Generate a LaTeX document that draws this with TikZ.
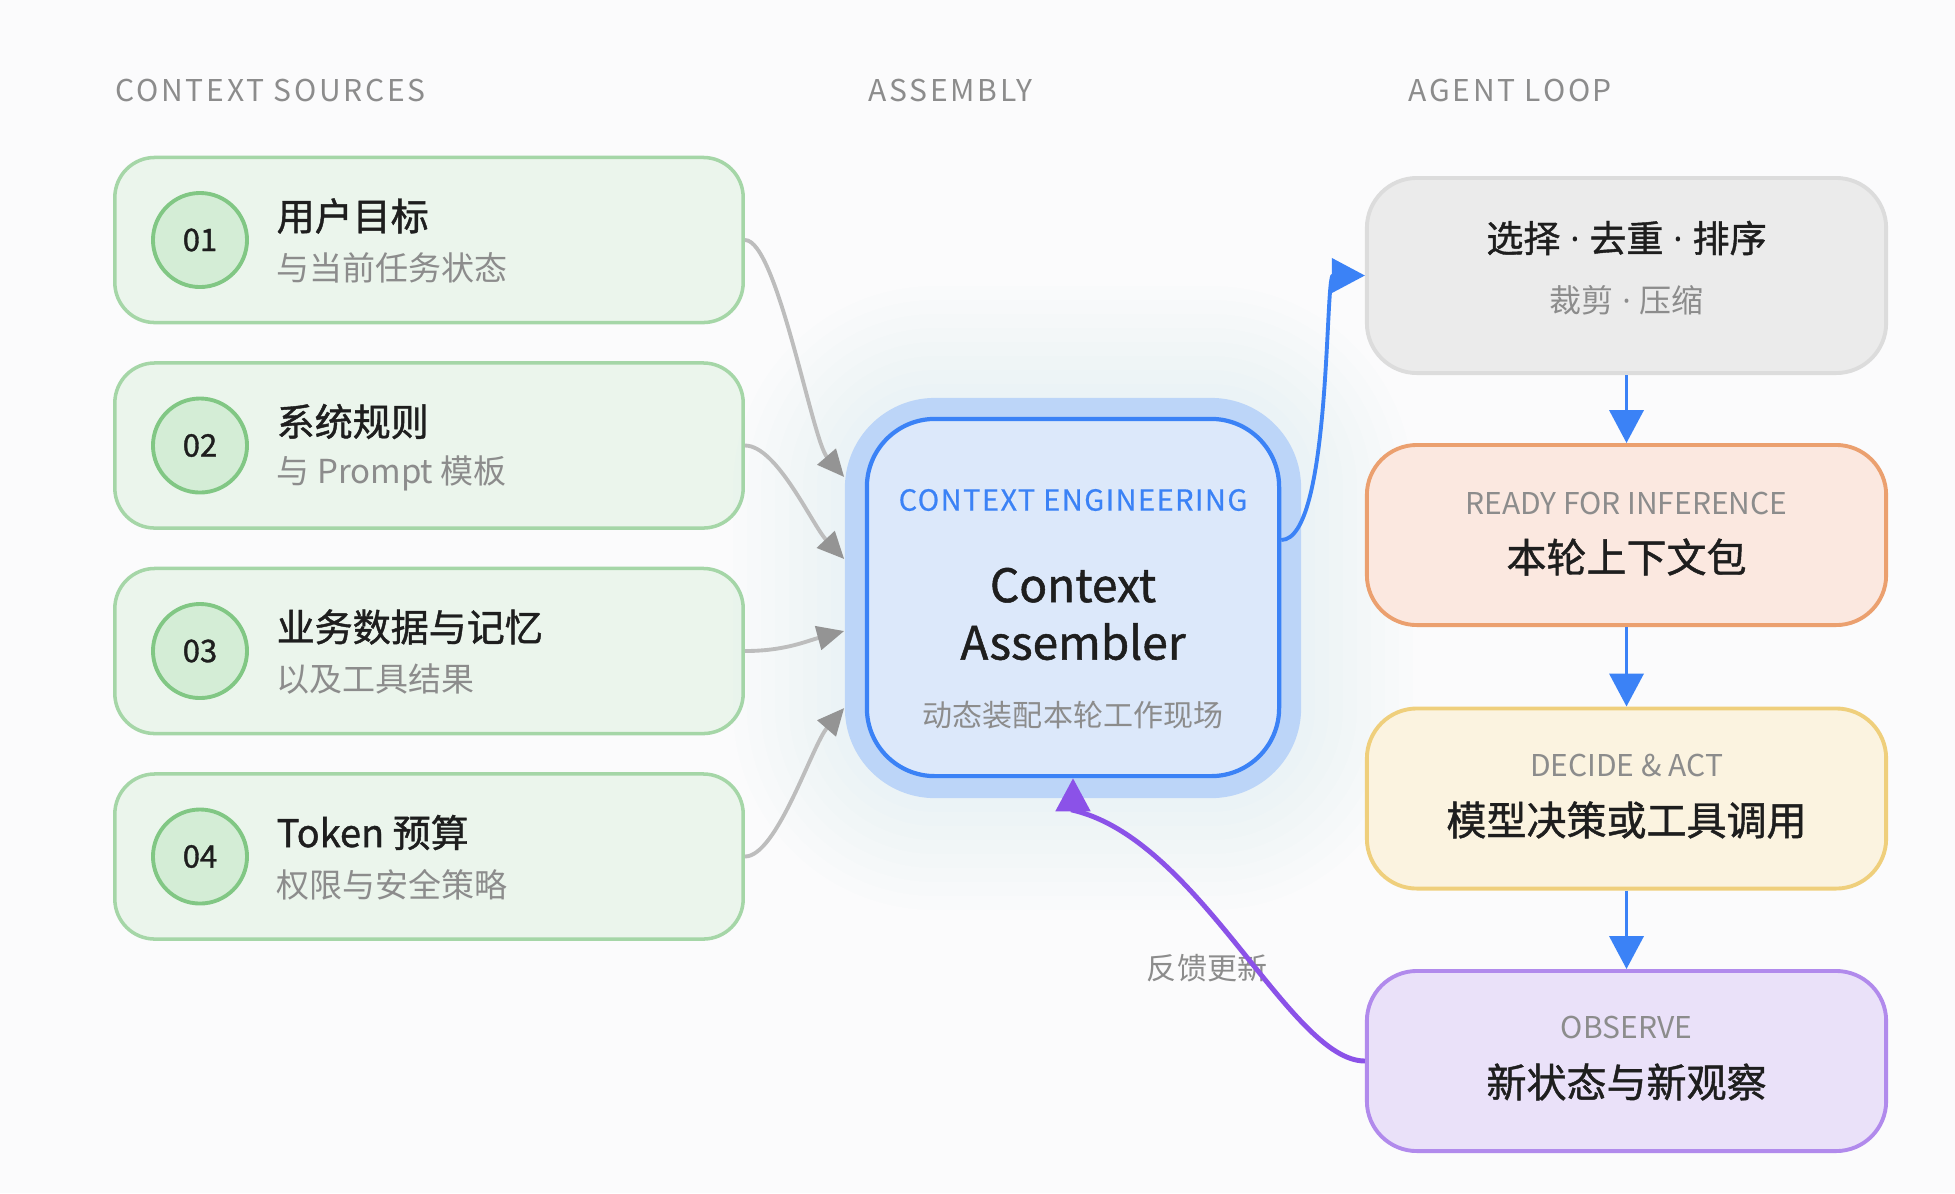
\documentclass[tikz,border=0pt]{standalone}
\usepackage{fontspec}
\setmainfont{Noto Sans CJK SC}
\newfontfamily\capsfont[LetterSpace=9]{Noto Sans CJK SC}
\newfontfamily\engfont[LetterSpace=5, FakeBold=0.6]{Noto Sans CJK SC}
\newfontfamily\heavy[FakeBold=1.1]{Noto Sans CJK SC}
\newfontfamily\dotfont{Open Sans}
\usepackage{xcolor}
\usepackage{tikz}
\usetikzlibrary{arrows.meta, positioning, calc}

\definecolor{bgcol}{HTML}{FBFBFC}
\definecolor{ink}{HTML}{1E1E1E}
\definecolor{mute}{HTML}{8C8C8C}
\definecolor{srcfill}{HTML}{EBF5EC}
\definecolor{srcline}{HTML}{A5D6A7}
\definecolor{dotfill}{HTML}{D4EDD6}
\definecolor{dotline}{HTML}{81C784}
\definecolor{flowblue}{HTML}{3B82F6}
\definecolor{halofill}{HTML}{BCD5F8}
\definecolor{asmfill}{HTML}{DCE8FA}
\definecolor{feedgray}{HTML}{BDBDBD}
\definecolor{tipgray}{HTML}{949494}
\definecolor{fbpurple}{HTML}{8B52E8}
\definecolor{selfill}{HTML}{EBEBEB}
\definecolor{selline}{HTML}{DCDCDC}
\definecolor{readyfill}{HTML}{FBE8E0}
\definecolor{readyline}{HTML}{EBA06F}
\definecolor{actfill}{HTML}{FBF3E0}
\definecolor{actline}{HTML}{EFCF7C}
\definecolor{obsfill}{HTML}{EAE1F9}
\definecolor{obsline}{HTML}{B18AEC}

\newcommand{\px}[1]{\fontsize{\fpeval{0.2845*#1}pt}{\fpeval{0.2845*#1*1.25}pt}\selectfont}
\newcommand{\md}{{\dotfont\ ·\ }}

\tikzset{
  head/.style={anchor=west, inner sep=0pt, text=mute, font=\capsfont\px{30}},
  srcbox/.style={draw=srcline, fill=srcfill, line width=1pt, rounded corners=0.4cm, minimum width=6.28cm, minimum height=1.65cm},
  numdot/.style={circle, draw=dotline, fill=dotfill, line width=1.1pt, minimum size=0.94cm, inner sep=0pt, text=ink, font=\heavy\px{31}},
  srctitle/.style={anchor=west, inner sep=0pt, text=ink, font=\heavy\px{38}},
  srcsub/.style={anchor=west, inner sep=0pt, text=mute, font=\px{33}},
  loopbox/.style={line width=1.1pt, rounded corners=0.5cm, minimum width=5.19cm, minimum height=1.8cm},
  looptag/.style={inner sep=0pt, text=mute, font=\px{30}},
  looptitle/.style={inner sep=0pt, text=ink, font=\heavy\px{40}},
  feed/.style={draw=feedgray, line width=1.1pt, -{Triangle[length=0.27cm, width=0.24cm, color=tipgray]}},
  flow/.style={draw=flowblue, line width=1.1pt, -{Triangle[length=0.33cm, width=0.34cm, color=flowblue]}},
  fb/.style={draw=fbpurple, line width=1.4pt, -{Triangle[length=0.33cm, width=0.34cm, color=fbpurple]}}
}

\begin{document}
\begin{tikzpicture}[x=0.01cm, y=-0.01cm]

%// canvas, pixel grid with y going down
\fill[bgcol] (0,0) rectangle (1955,1193);
\useasboundingbox (0,0) rectangle (1955,1193);

\node[head] (hsrc) at (115,90) {CONTEXT SOURCES};
\node[head] (hasm) at (868,90) {ASSEMBLY};
\node[head] (hloop) at (1408,90) {AGENT LOOP};

%// sources
\foreach \i/\ttl/\sub in {1/用户目标/与当前任务状态, 2/系统规则/与 Prompt 模板, 3/业务数据与记忆/以及工具结果, 4/Token 预算/权限与安全策略}
{
\pgfmathsetmacro\yy{240+205.5*(\i-1)}
\node[srcbox] (src\i) at (429,\yy) {};
\node[numdot] (num\i) at (200,\yy) {0\i};
\node[srctitle] (ttl\i) at (276,\yy-24) {\ttl};
\node[srcsub] (sub\i) at (276,\yy+28) {\sub};
}

%// soft glow behind the assembler
\foreach \k in {1,...,8}
\fill[flowblue, opacity=0.006, rounded corners=\fpeval{0.9+0.14*\k}cm] (845-\k*14,398-\k*14) rectangle (1301+\k*14,798+\k*14);

\node[fill=halofill, rounded corners=0.9cm, minimum width=4.56cm, minimum height=4cm] (halo) at (1073,598) {};
\node[draw=flowblue, fill=asmfill, line width=1.2pt, rounded corners=0.68cm, minimum width=4.12cm, minimum height=3.57cm] (asm) at (1073,597.5) {};
\node[text=flowblue, font=\engfont\px{29}] (eng) at (1073,500) {CONTEXT ENGINEERING};
\node[text=ink, align=center, font=\heavy\px{46}] (name) at (1073,614) {Context\\Assembler};
\node[text=mute, font=\px{30}] (scene) at (1073,715) {动态装配本轮工作现场};

%// agent loop
\node[loopbox, draw=selline, fill=selfill, minimum height=1.95cm] (sel) at (1626.5,275.5) {};
\node[looptitle, font=\heavy\px{37}] (selt) at (1626.5,238) {选择\md 去重\md 排序};
\node[looptag, font=\px{32}] (sels) at (1626.5,300) {裁剪\md 压缩};

\node[loopbox, draw=readyline, fill=readyfill] (ready) at (1626.5,535) {};
\node[looptag] (readyt) at (1626.5,503) {READY FOR INFERENCE};
\node[looptitle] (readys) at (1626.5,557) {本轮上下文包};

\node[loopbox, draw=actline, fill=actfill] (act) at (1626.5,798.5) {};
\node[looptag] (actt) at (1626.5,765) {DECIDE \& ACT};
\node[looptitle] (acts) at (1626.5,820) {模型决策或工具调用};

\node[loopbox, draw=obsline, fill=obsfill] (obs) at (1626.5,1061) {};
\node[looptag] (obst) at (1626.5,1027) {OBSERVE};
\node[looptitle] (obss) at (1626.5,1082) {新状态与新观察};

%// connectors
\draw[feed] (src1.east) .. controls +(32,0) and +(-32,-37) .. ($(halo.west)+(0,-121)$);
\draw[feed] (src2.east) .. controls +(32,0) and +(-32,-34) .. ($(halo.west)+(0,-39)$);
\draw[feed] (src3.east) to[out=0, in=195] ($(halo.west)+(0,33)$);
\draw[feed] (src4.east) .. controls +(32,0) and +(-32,37) .. ($(halo.west)+(0,110)$);

\draw[flow] ([yshift=0.575cm]asm.east) .. controls +(50,0) and +(-40,0) .. (sel.west);
\draw[flow] (sel) -- (ready);
\draw[flow] (ready) -- (act);
\draw[flow] (act) -- (obs);

\node[text=mute, font=\px{30}] (fbl) at (1207,968) {反馈更新};
\draw[fb] (obs.west) .. controls (1290,1061) and (1200,840) .. ([yshift=-0.32cm]asm.south) -- (asm.south);

\end{tikzpicture}
\end{document}
